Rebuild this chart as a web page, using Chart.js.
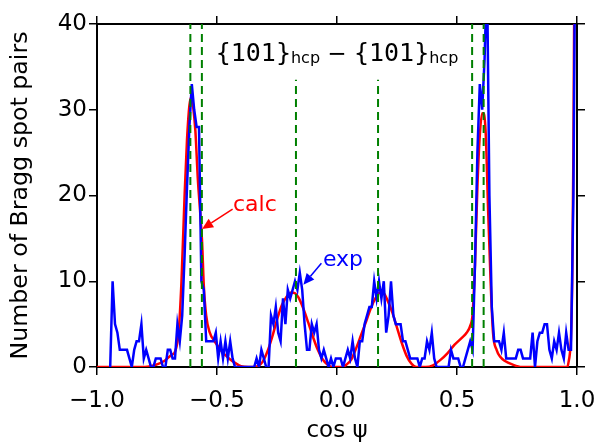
<!DOCTYPE html>
<html>
<head>
<meta charset="utf-8">
<script src="https://cdn.jsdelivr.net/npm/chart.js@4.4.1/dist/chart.umd.min.js"></script>
<style>
  html, body { margin: 0; padding: 0; background: #fff; }
  #chart-container { width: 598px; height: 445px; }
</style>
</head>
<body>
<div id="chart-container"><canvas id="braggChart" width="598" height="445"></canvas></div>
<script>
// measured histogram (blue), bins 0.01 wide, first bin centred at cos psi = -0.945
const expStart = -0.945;
const expBinWidth = 0.01;
const expCounts = [
  0, 10, 5, 4, 2, 2, 2, 2, 1, 0,
  2, 3, 3, 5, 1, 2, 1, 0, 0, 1,
  1, 1, 0, 0, 2, 2, 1, 1, 5, 3,
  6, 13, 21, 28, 33, 30, 28, 28, 10, 9,
  3, 3, 3, 3, 4, 1, 3, 1, 3, 1,
  3, 1, 0, 0, 0, 0, 0, 0, 0, 0,
  0, 1, 0, 2, 1, 0, 0, 6, 5, 7,
  4, 3, 8, 5, 9, 8, 9, 10, 9, 11,
  9, 5, 2, 2, 5, 4, 5, 2, 1, 2,
  1, 0, 1, 0, 1, 1, 1, 0, 1, 2,
  1, 3, 1, 0, 3, 3, 5, 6, 7, 7,
  10, 8, 10, 8, 10, 4, 6, 10, 6, 5,
  5, 5, 3, 3, 2, 1, 1, 1, 1, 0,
  1, 1, 3, 2, 4, 1, 0, 0, 0, 0,
  0, 0, 2, 1, 1, 1, 0, 0, 1, 2,
  3, 2, 12, 25, 33, 30, 36, 46, 20, 7,
  3, 3, 3, 2, 4, 1, 1, 1, 1, 1,
  2, 2, 1, 1, 1, 1, 4, 0, 3, 4,
  4, 5, 5, 2, 1, 3, 2, 4, 2, 1,
  4, 2, 2, 20, 60
];

// calculated distribution (red)
const calcX = [-1.0, -0.80, -0.76, -0.72, -0.69, -0.675, -0.66, -0.648, -0.635, -0.625,
  -0.615, -0.607, -0.598, -0.59, -0.58, -0.57, -0.562, -0.555, -0.545, -0.53,
  -0.51, -0.48, -0.45, -0.42, -0.40, -0.37, -0.35, -0.33, -0.31, -0.29,
  -0.27, -0.25, -0.23, -0.21, -0.19, -0.175, -0.16, -0.14, -0.12, -0.10,
  -0.08, -0.06, -0.04, -0.02, 0.02, 0.04, 0.06, 0.08, 0.10, 0.12,
  0.14, 0.16, 0.18, 0.195, 0.21, 0.23, 0.25, 0.27, 0.29, 0.31,
  0.33, 0.37, 0.40, 0.43, 0.46, 0.49, 0.52, 0.54, 0.555, 0.565,
  0.575, 0.585, 0.595, 0.605, 0.612, 0.62, 0.63, 0.64, 0.65, 0.665,
  0.68, 0.70, 0.73, 0.77, 0.96, 0.965, 0.97, 0.975, 0.98, 0.985, 0.99];
const calcY = [0, 0, 0.2, 0.7, 1.4, 1.8, 4, 10, 20, 26.5,
  30.5, 31.5, 30, 27.5, 22, 18, 14.5, 9.5, 6, 4,
  3, 1.8, 1, 0.4, 0.1, 0, 0, 0.1, 0.6, 1.8,
  3.5, 5.5, 7.2, 8.2, 8.7, 8.6, 8.1, 6.8, 5.2, 3.5,
  2.0, 0.9, 0.3, 0, 0, 0.3, 0.9, 2.2, 3.7, 5.2,
  6.8, 8.0, 8.7, 8.6, 7.8, 6.4, 4.6, 2.8, 1.3, 0.4,
  0, 0, 0.2, 0.8, 1.6, 2.6, 3.4, 4.0, 4.8, 6.2,
  12, 21, 27, 29.6, 29.5, 27, 18, 10, 4, 2,
  1.2, 0.7, 0.3, 0, 0, 0.6, 1.5, 3.5, 10, 25, 50];

// dashed guide lines (green)
const guideX = [-0.611, -0.563, -0.171, 0.171, 0.563, 0.611];
const guideTop = [40, 40, 33.5, 33.5, 40, 40];

const xTicks = [-1.0, -0.5, 0.0, 0.5, 1.0];
const yTicks = [0, 10, 20, 30, 40];

// arrow labels: text position, arrow tail, arrow tip (data units)
const notes = [
  { text: 'calc', color: '#ff0000', at: [-0.342, 18.9], tail: [-0.435, 18.4], tip: [-0.562, 16.1] },
  { text: 'exp', color: '#0000ff', at: [0.025, 12.5], tail: [-0.065, 12.1], tip: [-0.14, 9.6] }
];

const expData = expCounts.map((c, i) => ({ x: expStart + i * expBinWidth, y: c }));
const calcData = calcX.map((v, i) => ({ x: v, y: calcY[i] }));

const guideSets = guideX.map((gx, i) => ({
  data: [{ x: gx, y: 0 }, { x: gx, y: guideTop[i] }],
  borderColor: '#008000',
  borderWidth: 2,
  borderDash: [8, 5],
  showLine: true,
  pointRadius: 0
}));

const overlayPlugin = {
  id: 'overlay',
  afterDatasetsDraw(chart) {
    const { ctx, scales: { x, y } } = chart;
    ctx.save();
    notes.forEach(n => {
      const x0 = x.getPixelForValue(n.tail[0]), y0 = y.getPixelForValue(n.tail[1]);
      const x1 = x.getPixelForValue(n.tip[0]), y1 = y.getPixelForValue(n.tip[1]);
      const ang = Math.atan2(y1 - y0, x1 - x0);
      const head = 11, half = 5;
      ctx.strokeStyle = n.color;
      ctx.fillStyle = n.color;
      ctx.lineWidth = 1.5;
      ctx.beginPath();
      ctx.moveTo(x0, y0);
      ctx.lineTo(x1 - head * Math.cos(ang), y1 - head * Math.sin(ang));
      ctx.stroke();
      ctx.beginPath();
      ctx.moveTo(x1, y1);
      ctx.lineTo(x1 - head * Math.cos(ang) + half * Math.sin(ang), y1 - head * Math.sin(ang) - half * Math.cos(ang));
      ctx.lineTo(x1 - head * Math.cos(ang) - half * Math.sin(ang), y1 - head * Math.sin(ang) + half * Math.cos(ang));
      ctx.closePath();
      ctx.fill();
      ctx.font = '22px "DejaVu Sans"';
      ctx.textAlign = 'center';
      ctx.textBaseline = 'middle';
      ctx.fillText(n.text, x.getPixelForValue(n.at[0]), y.getPixelForValue(n.at[1]));
    });

    // title inside the plot: {101}hcp − {101}hcp
    const pieces = [
      { t: '{101}', f: '25px "DejaVu Sans Mono"', dy: 0 },
      { t: 'hcp', f: '16px "DejaVu Sans"', dy: 2 },
      { t: ' \u2212 ', f: '23px "DejaVu Sans"', dy: 0 },
      { t: '{101}', f: '25px "DejaVu Sans Mono"', dy: 0 },
      { t: 'hcp', f: '16px "DejaVu Sans"', dy: 2 }
    ];
    let total = 0;
    pieces.forEach(p => { ctx.font = p.f; p.w = ctx.measureText(p.t).width; total += p.w; });
    let cx = x.getPixelForValue(0) - total / 2;
    const base = 61;
    ctx.fillStyle = '#000';
    ctx.textAlign = 'left';
    ctx.textBaseline = 'alphabetic';
    pieces.forEach(p => {
      ctx.font = p.f;
      ctx.fillText(p.t, cx, base + p.dy);
      cx += p.w;
    });
    ctx.restore();
  }
};

const tickGrid = { display: true, drawOnChartArea: false, drawTicks: true, tickLength: 8, color: '#000', lineWidth: 1.5 };
const axisBorder = { display: true, color: '#000', width: 2 };
const tickFont = { family: 'DejaVu Sans', size: 23 };

const ctx = document.getElementById('braggChart').getContext('2d');
new Chart(ctx, {
  type: 'scatter',
  data: {
    datasets: [
      ...guideSets,
      { label: 'exp', data: expData, borderColor: '#0000ff', borderWidth: 2.5, showLine: true, pointRadius: 0, tension: 0 },
      { label: 'calc', data: calcData, borderColor: '#ff0000', borderWidth: 2.5, showLine: true, pointRadius: 0, cubicInterpolationMode: 'monotone' }
    ]
  },
  options: {
    responsive: false,
    animation: false,
    events: [],
    layout: { padding: 0 },
    plugins: { legend: { display: false }, tooltip: { enabled: false } },
    scales: {
      x: {
        type: 'linear', position: 'bottom', min: -1, max: 1,
        afterBuildTicks: s => { s.ticks = xTicks.map(v => ({ value: v })); },
        afterFit: s => { s.height = 78; s.paddingLeft = 0; s.paddingRight = 0; },
        ticks: { color: '#000', font: tickFont, padding: 12, maxRotation: 0,
          callback: v => v.toFixed(1).replace('-', '\u2212') },
        grid: tickGrid, border: axisBorder,
        title: { display: true, text: 'cos \u03c8', color: '#000', font: { family: 'DejaVu Sans', size: 23 }, padding: { top: 0, bottom: 0 } }
      },
      x2: {
        type: 'linear', position: 'top', axis: 'x', min: -1, max: 1,
        afterBuildTicks: s => { s.ticks = xTicks.map(v => ({ value: v })); },
        afterFit: s => { s.height = 24; s.paddingLeft = 0; s.paddingRight = 0; },
        ticks: { display: false }, grid: tickGrid, border: axisBorder
      },
      y: {
        type: 'linear', position: 'left', min: 0, max: 40,
        afterBuildTicks: s => { s.ticks = yTicks.map(v => ({ value: v })); },
        afterFit: s => { s.width = 97; s.paddingTop = 0; s.paddingBottom = 0; },
        ticks: { color: '#000', font: tickFont, padding: 2 },
        grid: tickGrid, border: axisBorder,
        title: { display: true, text: 'Number of Bragg spot pairs', color: '#000', font: { family: 'DejaVu Sans', size: 23.7 }, padding: { top: 7, bottom: 0 } }
      },
      y2: {
        type: 'linear', position: 'right', axis: 'y', min: 0, max: 40,
        afterBuildTicks: s => { s.ticks = yTicks.map(v => ({ value: v })); },
        afterFit: s => { s.width = 21; s.paddingTop = 0; s.paddingBottom = 0; },
        ticks: { display: false }, grid: tickGrid, border: axisBorder
      }
    }
  },
  plugins: [overlayPlugin]
});
</script>
</body>
</html>
